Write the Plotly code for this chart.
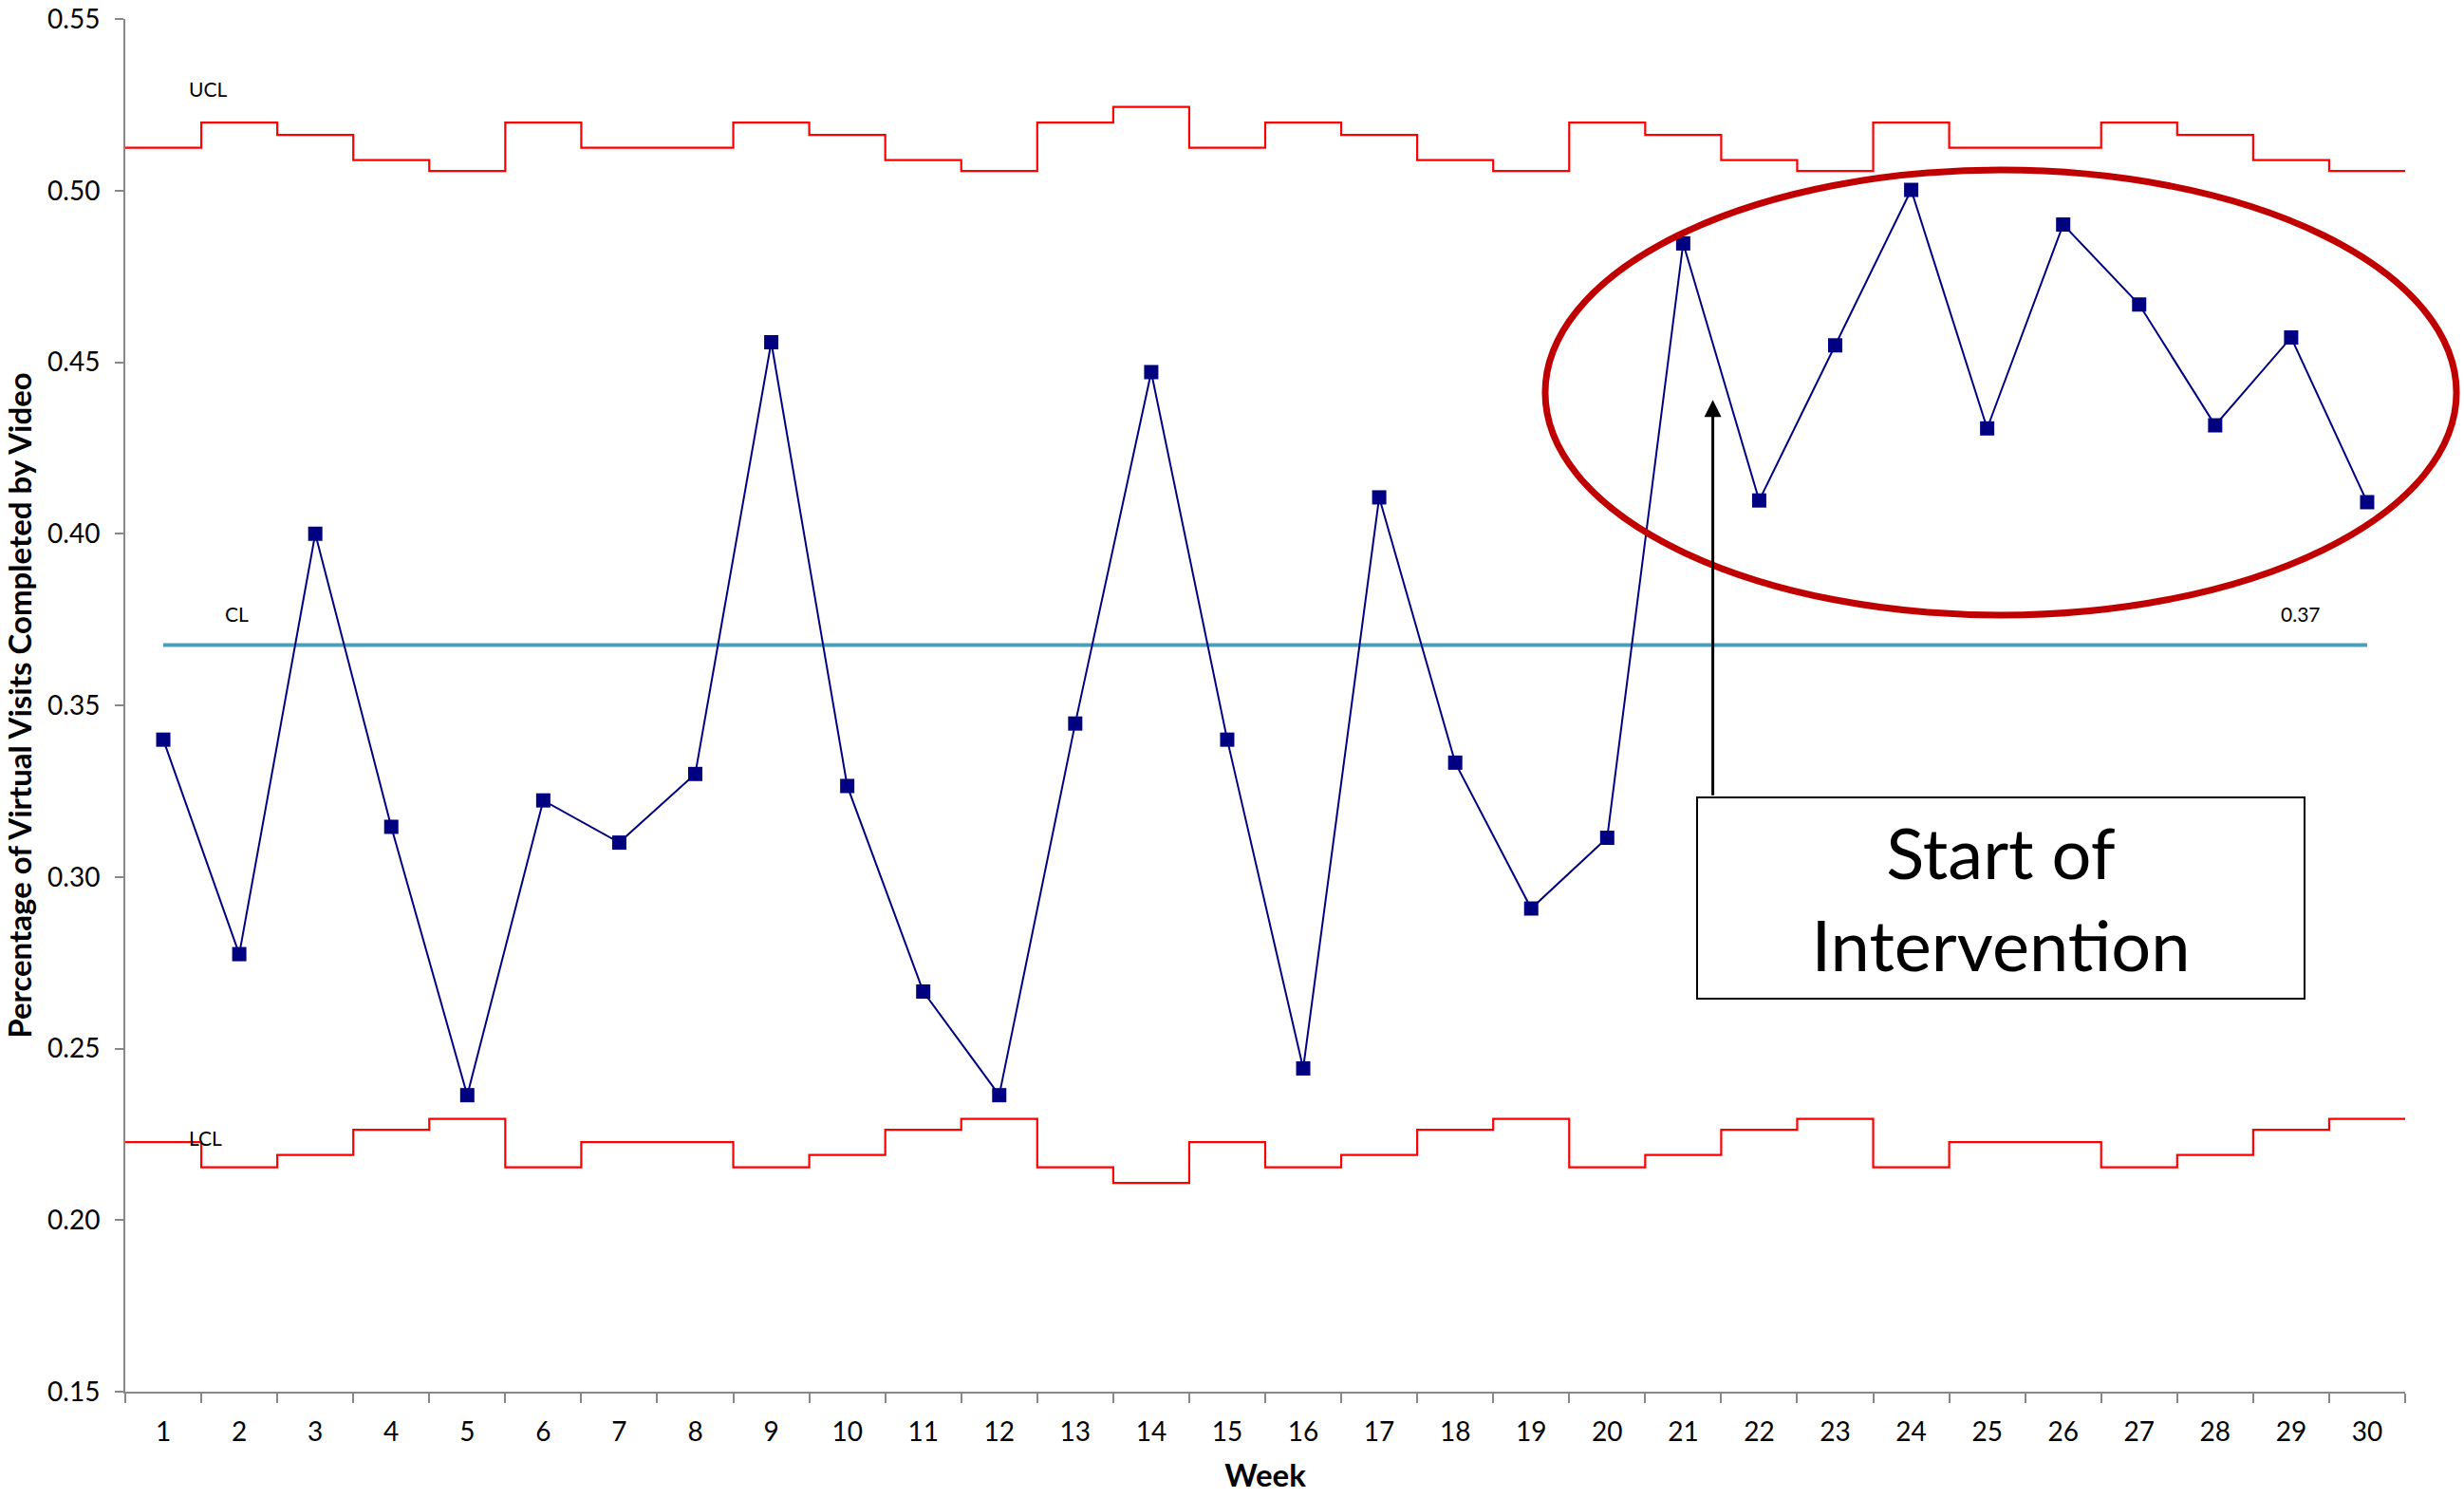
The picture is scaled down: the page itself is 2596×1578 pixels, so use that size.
import plotly.graph_objects as go

weeks = list(range(1, 31))
pct_video = [0.340, 0.2775, 0.400, 0.3146, 0.2364, 0.3223, 0.310, 0.330, 0.4558, 0.3265,
             0.2666, 0.2364, 0.3447, 0.4471, 0.340, 0.2442, 0.4106, 0.3333, 0.2908, 0.3114,
             0.4846, 0.4097, 0.4549, 0.5002, 0.4307, 0.4901, 0.4668, 0.4316, 0.4572, 0.4092]
ucl = [0.5125, 0.5198, 0.5162, 0.5089, 0.5057, 0.5198, 0.5125, 0.5125, 0.5198, 0.5162,
       0.5089, 0.5057, 0.5198, 0.5244, 0.5125, 0.5198, 0.5162, 0.5089, 0.5057, 0.5198,
       0.5162, 0.5089, 0.5057, 0.5198, 0.5125, 0.5125, 0.5198, 0.5162, 0.5089, 0.5057]
lcl = [0.2227, 0.2154, 0.2190, 0.2263, 0.2295, 0.2154, 0.2227, 0.2227, 0.2154, 0.2190,
       0.2263, 0.2295, 0.2154, 0.2108, 0.2227, 0.2154, 0.2190, 0.2263, 0.2295, 0.2154,
       0.2190, 0.2263, 0.2295, 0.2154, 0.2227, 0.2227, 0.2154, 0.2190, 0.2263, 0.2295]
cl = 0.3676
cl_label = "0.37"
tick_labels = [str(w) for w in weeks]
y_ticks = [0.15, 0.20, 0.25, 0.30, 0.35, 0.40, 0.45, 0.50, 0.55]
y_tick_labels = ["0.15", "0.20", "0.25", "0.30", "0.35", "0.40", "0.45", "0.50", "0.55"]

FONT = "Lato"

# step edges derived from categories
edges = [w - 0.5 for w in weeks] + [weeks[-1] + 0.5]

fig = go.Figure()
fig.add_trace(go.Scatter(x=edges, y=ucl + [ucl[-1]], mode="lines", line_shape="hv",
                         line=dict(color="#FF0000", width=2.2), hoverinfo="skip", showlegend=False))
fig.add_trace(go.Scatter(x=edges, y=lcl + [lcl[-1]], mode="lines", line_shape="hv",
                         line=dict(color="#FF0000", width=2.2), hoverinfo="skip", showlegend=False))
fig.add_trace(go.Scatter(x=[weeks[0], weeks[-1]], y=[cl, cl], mode="lines",
                         line=dict(color="#4A9FB8", width=4), showlegend=False))
fig.add_trace(go.Scatter(x=weeks, y=pct_video, mode="lines+markers",
                         line=dict(color="#000080", width=2),
                         marker=dict(symbol="square", size=15, color="#000080"),
                         showlegend=False))

fig.update_layout(
    width=2596, height=1578,
    margin=dict(l=132, r=62, t=20, b=112),
    plot_bgcolor="white", paper_bgcolor="white",
    font=dict(family=FONT, color="black"),
    xaxis=dict(range=[0.5, 30.5], tickvals=weeks, ticktext=tick_labels, ticks="",
               showline=True, linecolor="#888888", linewidth=2, showgrid=False, zeroline=False,
               tickfont=dict(size=28, family=FONT), ticklabelstandoff=16, automargin=False,
               minor=dict(tick0=0.5, dtick=1, ticks="outside", ticklen=10, tickcolor="#888888",
                          tickwidth=2, showgrid=False),
               title=dict(text="<b>Week</b>", font=dict(size=33, family=FONT), standoff=20)),
    yaxis=dict(range=[0.15, 0.55], tickvals=y_ticks, ticktext=y_tick_labels,
               ticks="outside", ticklen=9, tickcolor="#888888", tickwidth=2,
               showline=True, linecolor="#888888", linewidth=2, showgrid=False, zeroline=False,
               tickfont=dict(size=28, family=FONT), ticklabelstandoff=10,
               ticklabeloverflow="allow", automargin=False,
               title=dict(text="<b>Percentage of Virtual Visits Completed by Video</b>",
                          font=dict(size=33, family=FONT), standoff=8)),
)

small = dict(size=21, family=FONT, color="black")
fig.add_annotation(x=1.59, y=0.5296, text="UCL", showarrow=False, font=small)
fig.add_annotation(x=1.56, y=0.224, text="LCL", showarrow=False, font=small)
fig.add_annotation(x=1.97, y=0.3766, text="CL", showarrow=False, font=small)
fig.add_annotation(x=29.13, y=0.3766, text=cl_label, showarrow=False, font=small)

# ellipse highlight
fig.add_shape(type="circle", xref="paper", yref="paper",
              x0=0.6228, x1=1.0225, y0=0.5657, y1=0.890,
              line=dict(color="#C00000", width=7))

# arrow
fig.add_annotation(x=21.39, y=0.439, ax=21.39, ay=0.3234, axref="x", ayref="y",
                   text="", showarrow=True, arrowhead=2, arrowsize=1.2, arrowwidth=3,
                   arrowcolor="black")

# text box
fig.add_annotation(x=25.18, y=0.2938, text="Start of<br>Intervention", showarrow=False,
                   font=dict(size=74, family=FONT, color="black"),
                   bgcolor="white", bordercolor="black", borderwidth=2,
                   width=636, height=208, align="center", valign="middle")

fig.write_html("out.html")
